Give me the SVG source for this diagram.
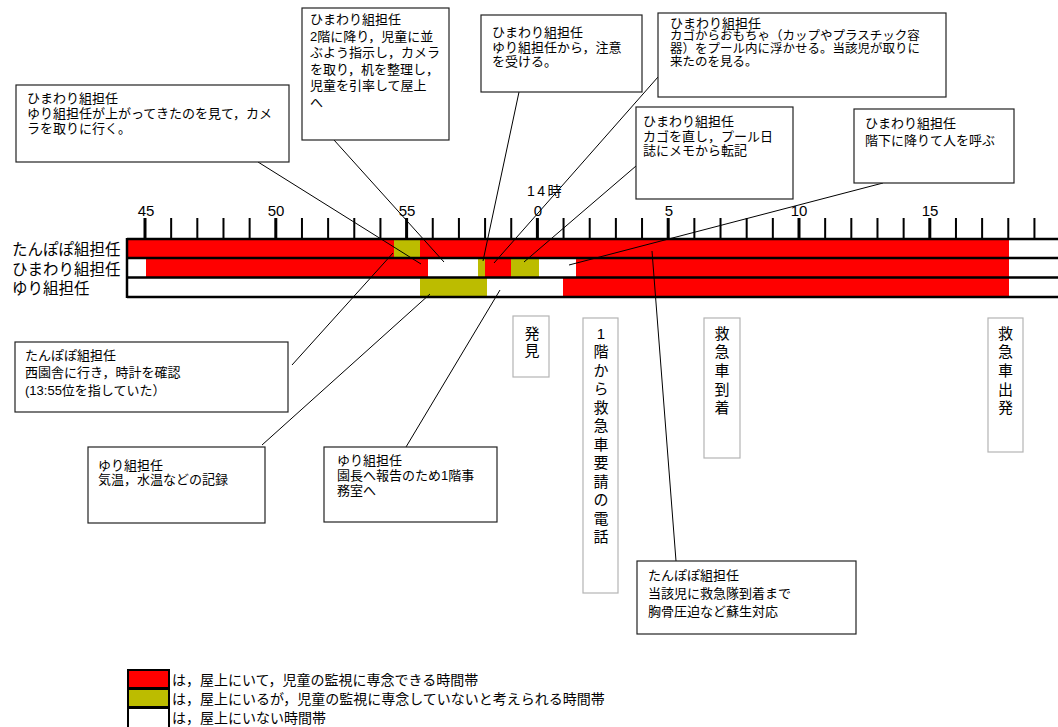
<svg xmlns="http://www.w3.org/2000/svg" width="1058" height="727" viewBox="0 0 1058 727">
<style>
.t{font-family:"Liberation Sans","Noto Sans CJK JP",sans-serif;font-size:13px;fill:#000;dominant-baseline:central}
.lab{font-size:15.5px}
.num{font-size:15px;text-anchor:middle}
.vt{font-size:15px;text-anchor:middle}
.lg{font-size:14px}
.box{fill:#fff;stroke:#222;stroke-width:1.2}
.vbox{fill:#fff;stroke:#b4b4b4;stroke-width:1.2}
.red{fill:#ff0000}
.olv{fill:#bcbc00}
.conn line{stroke:#000;stroke-width:1}
</style>
<rect width="1058" height="727" fill="#fff"/>

<g id="timeline">
  <g id="bars">
    <rect class="red" x="127" y="239" width="267" height="19"/>
    <rect class="olv" x="394" y="239" width="26" height="19"/>
    <rect class="red" x="420" y="239" width="589" height="19"/>
    <rect class="red" x="146" y="258" width="282" height="19.5"/>
    <rect class="olv" x="478" y="258" width="7" height="19.5"/>
    <rect class="red" x="485" y="258" width="26" height="19.5"/>
    <rect class="olv" x="511" y="258" width="28" height="19.5"/>
    <rect class="red" x="576" y="258" width="433" height="19.5"/>
    <rect class="olv" x="420" y="277.5" width="67" height="19.5"/>
    <rect class="red" x="563" y="277.5" width="446" height="19.5"/>
  </g>
  <g id="grid" stroke="#000">
    <path d="M127 239H1058M127 258H1058M127 277.5H1058M127 297H1058" stroke-width="2.5" fill="none"/>
    <path d="M127 238V298" stroke-width="2.5"/>
    <path d="M171.16 218V239M197.32 218V239M223.48 218V239M249.64 218V239M301.96 218V239M328.12 218V239M354.28 218V239M380.44 218V239M432.76 218V239M458.92 218V239M485.08 218V239M511.24 218V239M563.56 218V239M589.72 218V239M615.88 218V239M642.04 218V239M694.36 218V239M720.52 218V239M746.68 218V239M772.84 218V239M825.16 218V239M851.32 218V239M877.48 218V239M903.64 218V239M955.96 218V239M982.12 218V239M1008.28 218V239M1034.44 218V239" stroke-width="2"/>
    <path d="M145 218V239M275.8 218V239M406.6 218V239M537.4 218V239M668.2 218V239M799 218V239M929.8 218V239" stroke-width="3"/>
  </g>
  <g id="scale">
    <text class="t num" x="146" y="210">45</text>
    <text class="t num" x="276" y="210">50</text>
    <text class="t num" x="407" y="210">55</text>
    <text class="t num" x="538" y="210">0</text>
    <text class="t num" x="669" y="210">5</text>
    <text class="t num" x="799" y="210">10</text>
    <text class="t num" x="930" y="210">15</text>
    <text class="t" x="527" y="191" style="font-size:14px;letter-spacing:2.5px">14時</text>
  </g>
  <g id="rowlabels">
    <text class="t lab" x="12" y="249">たんぽぽ組担任</text>
    <text class="t lab" x="12" y="269">ひまわり組担任</text>
    <text class="t lab" x="12" y="288">ゆり組担任</text>
  </g>
</g>

<g id="connectors" class="conn">
  <line x1="258" y1="162" x2="421" y2="264"/>
  <line x1="334" y1="140" x2="444" y2="262"/>
  <line x1="519" y1="92" x2="483" y2="261"/>
  <line x1="658" y1="77" x2="494" y2="263"/>
  <line x1="636" y1="166" x2="524" y2="262"/>
  <line x1="883" y1="183" x2="569" y2="265"/>
  <line x1="292" y1="365" x2="393" y2="253"/>
  <line x1="262" y1="445" x2="430" y2="294"/>
  <line x1="406" y1="447" x2="500" y2="290"/>
  <line x1="676" y1="561" x2="652" y2="251"/>
</g>

<g id="noteA">
  <rect class="box" x="16" y="85" width="273" height="77"/>
  <text class="t" x="27" y="98">ひまわり組担任</text>
  <text class="t" x="27" y="113">ゆり組担任が上がってきたのを見て，カメ</text>
  <text class="t" x="27" y="128">ラを取りに行く。</text>
</g>
<g id="noteB">
  <rect class="box" x="302" y="8" width="147" height="132"/>
  <text class="t" x="310" y="19.5">ひまわり組担任</text>
  <text class="t" x="310" y="36">2階に降り，児童に並</text>
  <text class="t" x="310" y="52.5">ぶよう指示し，カメラ</text>
  <text class="t" x="310" y="69">を取り，机を整理し，</text>
  <text class="t" x="310" y="85.5">児童を引率して屋上</text>
  <text class="t" x="310" y="102">へ</text>
</g>
<g id="noteC">
  <rect class="box" x="481" y="15" width="161" height="77"/>
  <text class="t" x="492" y="32">ひまわり組担任</text>
  <text class="t" x="492" y="47">ゆり組担任から，注意</text>
  <text class="t" x="492" y="61">を受ける。</text>
</g>
<g id="noteD">
  <rect class="box" x="658" y="13" width="288" height="84"/>
  <text class="t" x="670" y="23">ひまわり組担任</text>
  <text class="t" x="670" y="36" style="font-size:12.5px">カゴからおもちゃ（カップやプラスチック容</text>
  <text class="t" x="670" y="49" style="font-size:12.5px">器）をプール内に浮かせる。当該児が取りに</text>
  <text class="t" x="670" y="62" style="font-size:12.5px">来たのを見る。</text>
</g>
<g id="noteE">
  <rect class="box" x="636" y="107" width="157" height="92"/>
  <text class="t" x="643" y="121.5">ひまわり組担任</text>
  <text class="t" x="643" y="136">カゴを直し，プール日</text>
  <text class="t" x="643" y="150">誌にメモから転記</text>
</g>
<g id="noteF">
  <rect class="box" x="854" y="109" width="160" height="74"/>
  <text class="t" x="865" y="123">ひまわり組担任</text>
  <text class="t" x="865" y="140">階下に降りて人を呼ぶ</text>
</g>
<g id="noteG">
  <rect class="box" x="15" y="342" width="273" height="70"/>
  <text class="t" x="25" y="355">たんぽぽ組担任</text>
  <text class="t" x="25" y="372.5">西園舎に行き，時計を確認</text>
  <text class="t" x="25" y="390">(13:55位を指していた）</text>
</g>
<g id="noteH">
  <rect class="box" x="88" y="447" width="177" height="76"/>
  <text class="t" x="98" y="465">ゆり組担任</text>
  <text class="t" x="98" y="479">気温，水温などの記録</text>
</g>
<g id="noteI">
  <rect class="box" x="324" y="447" width="173" height="75"/>
  <text class="t" x="337" y="460">ゆり組担任</text>
  <text class="t" x="337" y="475">園長へ報告のため1階事</text>
  <text class="t" x="337" y="490">務室へ</text>
</g>
<g id="noteJ">
  <rect class="box" x="637" y="561" width="219" height="73"/>
  <text class="t" x="648" y="575">たんぽぽ組担任</text>
  <text class="t" x="648" y="593">当該児に救急隊到着まで</text>
  <text class="t" x="648" y="611">胸骨圧迫など蘇生対応</text>
</g>

<g id="event-hakken">
  <rect class="vbox" x="513" y="316" width="36" height="61"/>
  <text class="t vt" x="532 532" y="333 350">発見</text>
</g>
<g id="event-call">
  <rect class="vbox" x="583" y="318" width="35" height="275"/>
  <text class="t vt" x="601 601 601 601 601 601 601 601 601 601 601 601" y="333 351.5 370 388.5 407 425.5 444 462.5 481 499.5 518 536.5">1階から救急車要請の電話</text>
</g>
<g id="event-arrive">
  <rect class="vbox" x="704" y="318" width="36" height="140"/>
  <text class="t vt" x="722 722 722 722 722" y="333 351.7 370.4 389.1 407.8">救急車到着</text>
</g>
<g id="event-depart">
  <rect class="vbox" x="988" y="318" width="35" height="134"/>
  <text class="t vt" x="1005.5 1005.5 1005.5 1005.5 1005.5" y="333 351.7 370.4 389.1 407.8">救急車出発</text>
</g>

<g id="legend">
  <rect x="128" y="670" width="41" height="18" fill="#ff0000" stroke="#000" stroke-width="2"/>
  <rect x="128" y="689" width="41" height="18" fill="#bcbc00" stroke="#000" stroke-width="2"/>
  <rect x="128" y="708" width="41" height="20" fill="#fff" stroke="#000" stroke-width="2"/>
  <text class="t lg" x="172" y="680">は，屋上にいて，児童の監視に専念できる時間帯</text>
  <text class="t lg" x="172" y="699">は，屋上にいるが，児童の監視に専念していないと考えられる時間帯</text>
  <text class="t lg" x="172" y="718">は，屋上にいない時間帯</text>
</g>
</svg>
